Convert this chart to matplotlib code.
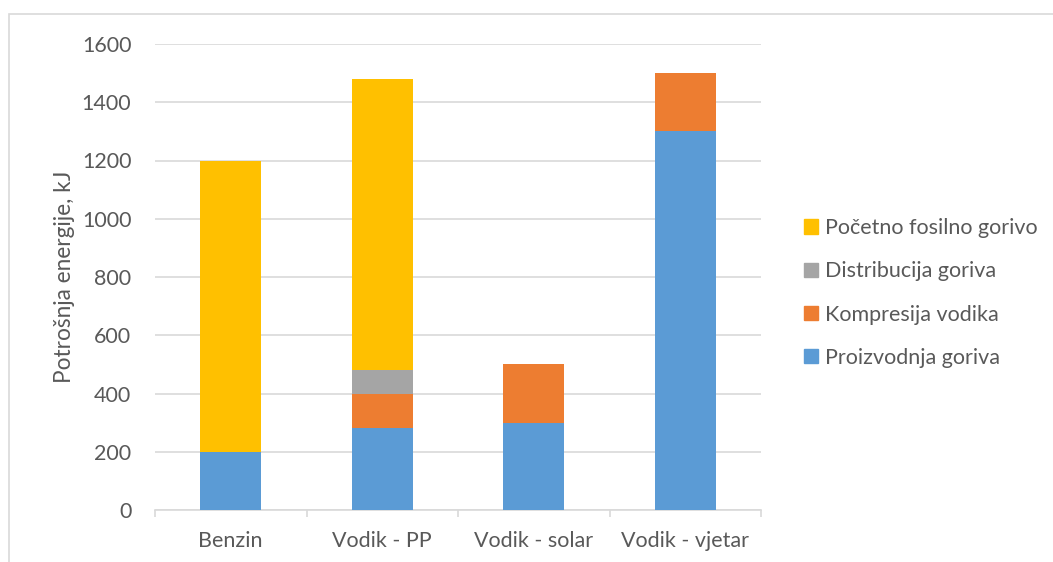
import numpy as np
import matplotlib.pyplot as plt
from matplotlib.patches import Rectangle, Patch

plt.rcParams['font.family'] = ['Lato', 'DejaVu Sans']

categories = ['Benzin', 'Vodik - PP', 'Vodik - solar', 'Vodik - vjetar']
proizvodnja = [200, 280, 300, 1300]
kompresija = [0, 120, 200, 200]
distribucija = [0, 80, 0, 0]
fosilno = [1000, 1000, 0, 0]

series = [
    ('Proizvodnja goriva', proizvodnja, '#5B9BD5'),
    ('Kompresija vodika', kompresija, '#ED7D31'),
    ('Distribucija goriva', distribucija, '#A5A5A5'),
    ('Početno fosilno gorivo', fosilno, '#FFC000'),
]

txt = '#595959'
fs = 15.5
fig = plt.figure(figsize=(10.53, 5.62), dpi=100)
ax = fig.add_axes([155/1053, 1-510/562, 606/1053, 466/562])

# okvir oko grafikona
fig.patches.append(Rectangle((9/1053, -0.05), 1.1, 1-14/562+0.05, transform=fig.transFigure,
                             fill=False, edgecolor='#D9D9D9', lw=1.2))

x = np.arange(len(categories))
bottom = np.zeros(len(categories))
for name, vals, col in series:
    ax.bar(x, vals, 0.4, bottom=bottom, color=col, label=name, zorder=3)
    bottom += np.array(vals)

ax.set_xlim(-0.5, len(categories) - 0.5)
ax.set_ylim(0, 1600)
ax.set_yticks(np.arange(0, 1601, 200))
ax.grid(axis='y', color='#D9D9D9', lw=1.2, zorder=0)
for s in ['top', 'right', 'left']:
    ax.spines[s].set_visible(False)
ax.spines['bottom'].set_color('#D9D9D9')
ax.spines['bottom'].set_linewidth(1.2)

ax.set_xticks(x)
ax.set_xticklabels(categories)
ax.set_xticks(np.arange(-0.5, len(categories)), minor=True)
ax.tick_params(axis='x', which='major', length=0, pad=15, labelsize=fs, labelcolor=txt)
ax.tick_params(axis='x', which='minor', length=5, width=1.2, color='#D9D9D9')
ax.tick_params(axis='y', length=0, pad=17, labelsize=fs, labelcolor=txt)

ax.set_ylabel('Potrošnja energije, kJ', fontsize=16.3, color=txt, labelpad=5)

handles = [Patch(color=col, label=name) for name, vals, col in series][::-1]
fig.legend(handles=handles, loc='center left', bbox_to_anchor=(785/1053, 1-293/562),
           frameon=False, fontsize=fs, labelcolor=txt, handlelength=0.65, handleheight=0.65,
           handletextpad=0.3, labelspacing=1.08)

plt.savefig('out.png', dpi=100)
